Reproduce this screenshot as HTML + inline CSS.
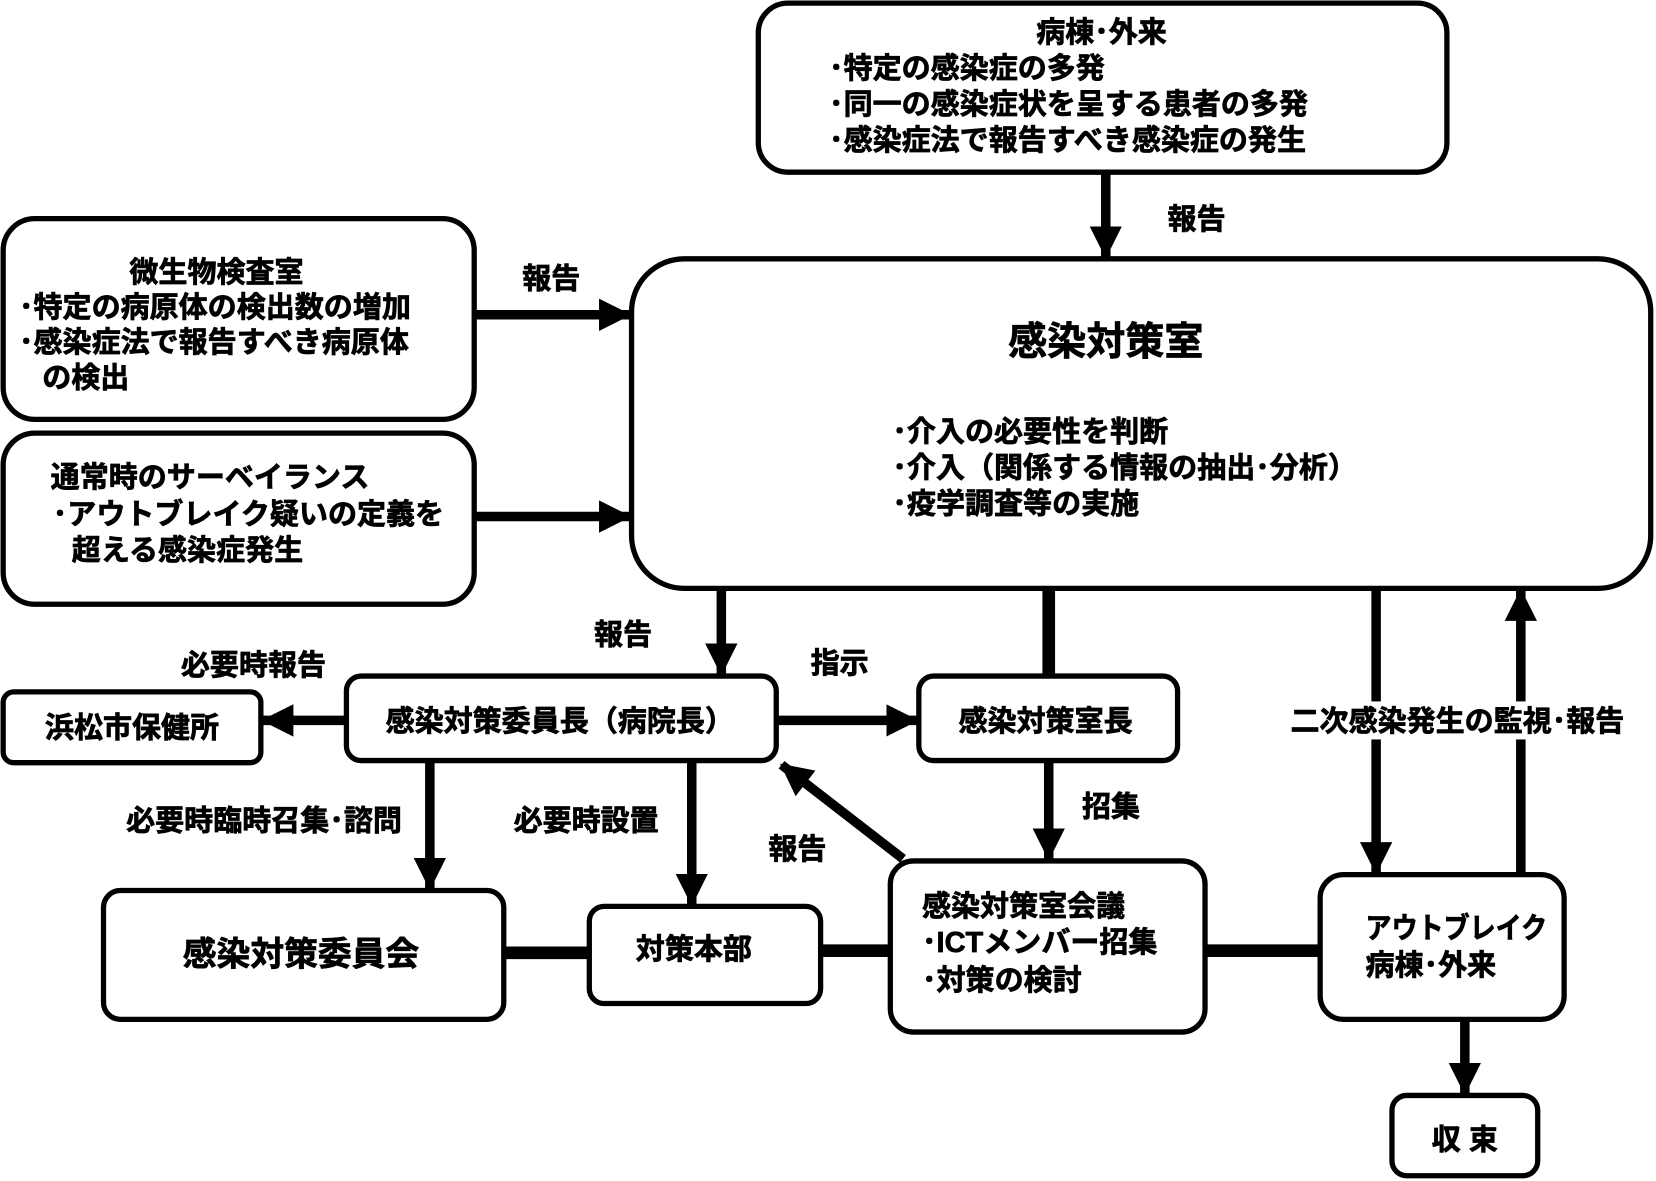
<!DOCTYPE html>
<html><head><meta charset="utf-8"><style>
html,body{margin:0;padding:0;background:#fff;}
svg{display:block;}
text{font-family:"Liberation Sans","Noto Sans CJK JP",sans-serif;font-weight:bold;fill:#000;font-size:27.5px;stroke:#000;stroke-width:0.7px;}
</style></head><body>
<svg width="1656" height="1181" viewBox="0 0 1568 1118" preserveAspectRatio="none" xmlns="http://www.w3.org/2000/svg">
<defs>
<marker id="a" markerWidth="4" markerHeight="4" refX="3.2" refY="2" orient="auto" markerUnits="strokeWidth" viewBox="0 0 4 4"><path d="M0,0.3 L3.4,2 L0,3.7 z" fill="#000"/></marker>
</defs>
<g fill="#fff" stroke="#000" stroke-width="5">
<rect x="718" y="3" width="652" height="160" rx="28"/>
<rect x="598" y="245" width="965" height="312" rx="50"/>
<rect x="3" y="207" width="446" height="190" rx="30"/>
<rect x="3" y="410" width="446" height="162" rx="30"/>
<rect x="328" y="640" width="407" height="80" rx="14"/>
<rect x="3" y="655" width="244" height="67" rx="10"/>
<rect x="870" y="640" width="245" height="80" rx="14"/>
<rect x="98" y="843" width="379" height="122" rx="16"/>
<rect x="558" y="858" width="219" height="92" rx="14"/>
<rect x="843" y="815" width="298" height="162" rx="22"/>
<rect x="1250" y="828" width="231" height="137" rx="22"/>
<rect x="1318" y="1037" width="138" height="76" rx="14"/>
</g>
<g stroke="#000" stroke-width="9" fill="none">
<line x1="1047" y1="163" x2="1047" y2="243" marker-end="url(#a)"/>
<line x1="449" y1="298" x2="596" y2="298" marker-end="url(#a)"/>
<line x1="449" y1="489" x2="596" y2="489" marker-end="url(#a)"/>
<line x1="683" y1="557" x2="683" y2="638" marker-end="url(#a)"/>
<line x1="993" y1="557" x2="993" y2="640" stroke-width="12"/>
<line x1="1303" y1="557" x2="1303" y2="826" marker-end="url(#a)"/>
<line x1="1440" y1="828" x2="1440" y2="559" marker-end="url(#a)"/>
<line x1="328" y1="682" x2="249" y2="682" marker-end="url(#a)"/>
<line x1="735" y1="682" x2="868" y2="682" marker-end="url(#a)"/>
<line x1="993" y1="720" x2="993" y2="813" marker-end="url(#a)"/>
<line x1="407" y1="720" x2="407" y2="841" marker-end="url(#a)"/>
<line x1="655" y1="720" x2="655" y2="856" marker-end="url(#a)"/>
<line x1="855" y1="813" x2="740" y2="724" marker-end="url(#a)"/>
<line x1="1387" y1="965" x2="1387" y2="1035" marker-end="url(#a)"/>
<line x1="477" y1="902" x2="558" y2="902" stroke-width="12"/>
<line x1="777" y1="900" x2="843" y2="900" stroke-width="12"/>
<line x1="1141" y1="900" x2="1250" y2="900" stroke-width="12"/>
</g>
<text x="1043" y="40" text-anchor="middle">病棟･外来</text>
<text x="785" y="74">･特定の感染症の多発</text>
<text x="785" y="108">･同一の感染症状を呈する患者の多発</text>
<text x="785" y="142">･感染症法で報告すべき感染症の発生</text>
<text x="1133" y="217" text-anchor="middle">報告</text>
<text x="1047" y="336" text-anchor="middle" style="font-size:37px">感染対策室</text>
<text x="845" y="418">･介入の必要性を判断</text>
<text x="845" y="452">･介入（関係する情報の抽出･分析）</text>
<text x="845" y="486">･疫学調査等の実施</text>
<text x="205" y="267" text-anchor="middle">微生物検査室</text>
<text x="18" y="300">･特定の病原体の検出数の増加</text>
<text x="18" y="333">･感染症法で報告すべき病原体</text>
<text x="40" y="367">の検出</text>
<text x="522" y="273" text-anchor="middle">報告</text>
<text x="48" y="461">通常時のサーベイランス</text>
<text x="50" y="496">･アウトブレイク疑いの定義を</text>
<text x="68" y="530">超える感染症発生</text>
<text x="590" y="610" text-anchor="middle">報告</text>
<rect x="1210" y="664" width="345" height="36" fill="#fff"/>
<text x="1380" y="692" text-anchor="middle">二次感染発生の監視･報告</text>
<text x="530" y="692" text-anchor="middle">感染対策委員長（病院長）</text>
<text x="125" y="698" text-anchor="middle">浜松市保健所</text>
<text x="240" y="639" text-anchor="middle">必要時報告</text>
<text x="795" y="637" text-anchor="middle">指示</text>
<text x="990" y="692" text-anchor="middle">感染対策室長</text>
<text x="1052" y="773" text-anchor="middle">招集</text>
<text x="250" y="786" text-anchor="middle">必要時臨時召集･諮問</text>
<text x="555" y="786" text-anchor="middle">必要時設置</text>
<text x="755" y="813" text-anchor="middle">報告</text>
<text x="285" y="914" text-anchor="middle" style="font-size:32px">感染対策委員会</text>
<text x="657" y="908" text-anchor="middle">対策本部</text>
<text x="873" y="867">感染対策室会議</text>
<text x="873" y="901">･ICTメンバー招集</text>
<text x="873" y="937">･対策の検討</text>
<text x="1293" y="888" textLength="172" lengthAdjust="spacingAndGlyphs">アウトブレイク</text>
<text x="1293" y="923">病棟･外来</text>
<text x="1387" y="1088" text-anchor="middle">収 束</text>
</svg>
</body></html>
